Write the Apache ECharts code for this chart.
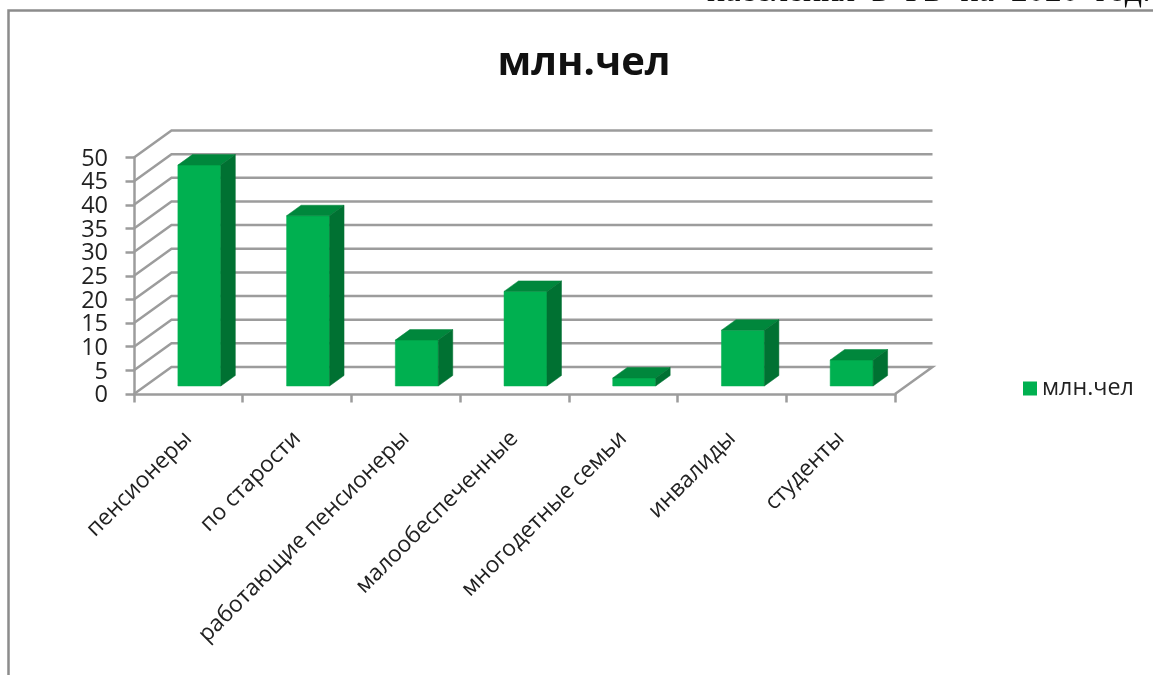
<!DOCTYPE html>
<html><head><meta charset="utf-8">
<style>html,body{margin:0;padding:0;background:#fff;overflow:hidden}#c{width:1153px;height:675px;filter:blur(0.5px)}</style>
<script src="https://cdn.jsdelivr.net/npm/echarts@6/dist/echarts.min.js"></script>
</head><body><div id="c"></div>
<script>
const categories=['пенсионеры','по старости','работающие пенсионеры','малообеспеченные','многодетные семьи','инвалиды','студенты'];
const values=[46.7,36,9.7,20,1.7,11.8,5.5];
const yTicks=[0,5,10,15,20,25,30,35,40,45,50];
const seriesName='млн.чел';
const FONT='"Open Sans","Noto Sans",sans-serif';
const WALL_DX=37.5,WALL_DY=-27;
const BAR_DX=11,BAR_DY=-8,DEPTH_DX=14.5,DEPTH_DY=-10.5;
const GRID='#9c9c9c';
const chart=echarts.init(document.getElementById('c'),null,{renderer:'canvas'});
chart.setOption({
  animation:false,
  backgroundColor:'#fff',
  title:{text:seriesName,left:579,top:39,textAlign:'center',textStyle:{fontFamily:FONT,fontSize:40,fontWeight:'bold',color:'#111'}},
  legend:{left:1018,top:372,itemWidth:14,itemHeight:14,itemGap:6,data:[{name:seriesName,icon:'rect'}],
    itemStyle:{color:'#00B050'},textStyle:{fontFamily:FONT,fontSize:23.3,color:'#222'}},
  grid:{left:134,right:258,top:157.5,bottom:281,containLabel:false},
  xAxis:{type:'category',data:categories,boundaryGap:true,
    axisLine:{lineStyle:{color:GRID,width:2.5}},
    axisTick:{show:true,alignWithLabel:false,length:8.5,lineStyle:{color:GRID,width:2.5}},
    axisLabel:{rotate:45,interval:0,margin:41,fontFamily:FONT,fontSize:22.7,color:'#222'}},
  yAxis:{type:'value',min:0,max:50,interval:5,
    axisLine:{show:true,onZero:false,lineStyle:{color:GRID,width:2.5}},
    axisTick:{show:true,length:8.5,lineStyle:{color:GRID,width:2.5}},
    splitLine:{show:false},
    axisLabel:{show:false}},
  series:[
    {type:'custom',name:'grid',silent:true,z:1,legendHoverLink:false,data:yTicks.map(v=>[0,v]),
     encode:{x:0,y:1},
     renderItem(p,api){
       const v=api.value(1),y=api.coord([0,v])[1],x0=p.coordSys.x,x1=x0+p.coordSys.width;
       const pts=[[x0,y],[x0+WALL_DX,y+WALL_DY],[x1+WALL_DX,y+WALL_DY]];
       if(v===0)pts.push([x1,y]);
       return {type:'group',children:[
         {type:'polyline',shape:{points:pts},style:{stroke:GRID,lineWidth:2.5,fill:null}},
         {type:'text',x:x0-26,y:y+1.5,style:{text:String(v),align:'right',verticalAlign:'middle',font:'23.5px '+FONT,fill:'#222'}}
       ]};
     }},
    {type:'custom',name:seriesName,z:3,data:values.map((v,i)=>[i,v]),encode:{x:0,y:1},
     itemStyle:{color:'#00B050'},
     renderItem(p,api){
       const band=api.size([1,0])[0],w=band*0.395;
       const c=api.coord([api.value(0),api.value(1)]),b=api.coord([api.value(0),0]);
       const l=c[0]-w/2+BAR_DX,r=l+w,t=c[1]+BAR_DY,bt=b[1]+BAR_DY;
       const dx=DEPTH_DX,dy=DEPTH_DY;
       const poly=(pts,fill)=>({type:'polygon',shape:{points:pts},style:{fill,stroke:fill,lineWidth:0.5}});
       return {type:'group',children:[
         poly([[l,t],[r,t],[r,bt],[l,bt]],'#00B050'),
         poly([[l,t],[r,t],[r+dx,t+dy],[l+dx,t+dy]],'#00873C'),
         poly([[r,t],[r+dx,t+dy],[r+dx,bt+dy],[r,bt]],'#007132')
       ]};
     }}
  ],
  graphic:[
    {type:'polyline',silent:true,shape:{points:[[8.5,675],[8.5,10.5],[1153,10.5]]},style:{stroke:'#8c8c8c',lineWidth:2.5,fill:null}},
    {type:'text',silent:true,left:707,top:-25,style:{text:'населения  в  РБ  на  2020  год.',fontFamily:'"Liberation Serif",serif',fontSize:34,fill:'#111'}}
  ]
});
</script></body></html>
